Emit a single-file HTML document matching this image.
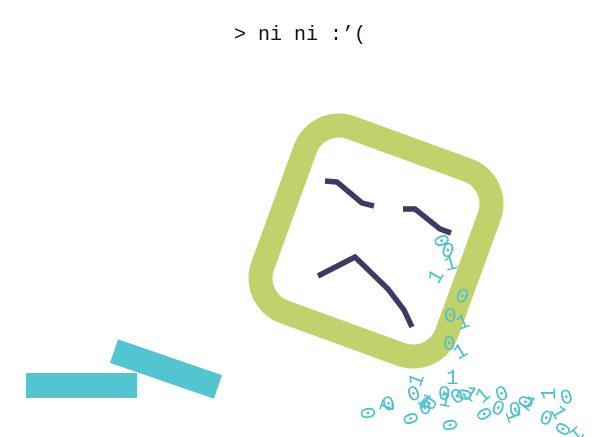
<!DOCTYPE html>
<html><head><meta charset="utf-8"><style>
html,body{margin:0;padding:0;background:#fff;}
svg{display:block}
</style></head><body>
<svg width="600" height="437" viewBox="0 0 600 437" xmlns="http://www.w3.org/2000/svg">
<text x="300" y="40" text-anchor="middle" font-family="Liberation Mono, monospace" font-size="20" fill="#111">&gt; ni ni :’(</text>
<g>
<rect x="26" y="373" width="111" height="25" fill="#52c5d1"/>
<rect x="-55" y="-12.5" width="110" height="25" fill="#52c5d1" transform="translate(166,369) rotate(19)"/>
</g>
<g>
<rect x="-98" y="-98" width="196" height="196" rx="36" fill="none" stroke="#c1d16b" stroke-width="24" transform="translate(376,241) rotate(20)"/>
<g fill="none" stroke="#3f3a62" stroke-width="5.5" stroke-linejoin="miter">
<polyline points="325,181 337,182 362,203 374,206"/>
<polyline points="403,209 415,209 440,229 451,233"/>
<polyline points="318,276 355,257 388,289 404,310 412,327"/>
</g>
</g>
<g font-family="Liberation Mono, monospace" font-size="21" fill="#4fc0cc">
<text transform="translate(433,237) rotate(70)">0</text>
<text transform="translate(440,255) rotate(15)">0</text>
<text transform="translate(446,271) rotate(-15)">1</text>
<text transform="translate(438,285) rotate(-60)">1</text>
<text transform="translate(454,300) rotate(20)">0</text>
<text transform="translate(444,322)">0</text>
<text transform="translate(459,330) rotate(-20)">1</text>
<text transform="translate(443,350)">0</text>
<text transform="translate(458,360) rotate(-30)">1</text>
<text transform="translate(446,384)">1</text>
<text transform="translate(438,400)">0</text>
<text transform="translate(420,388) rotate(-70)">1</text>
<text transform="translate(360,408) rotate(80)">0</text>
<text transform="translate(383,398) rotate(110)">1</text>
<text transform="translate(385,412) rotate(-20)">0</text>
<text transform="translate(402,415) rotate(70)">0</text>
<text transform="translate(410,402) rotate(-20)">0</text>
<text transform="translate(416,402) rotate(40)">1</text>
<text transform="translate(420,415) rotate(-10)">0</text>
<text transform="translate(432,412) rotate(-60)">0</text>
<text transform="translate(438,405) rotate(10)">1</text>
<text transform="translate(442,420) rotate(80)">0</text>
<text transform="translate(455,405) rotate(-30)">0</text>
<text transform="translate(462,396) rotate(30)">1</text>
<text transform="translate(470,402) rotate(-80)">0</text>
<text transform="translate(475,412) rotate(60)">0</text>
<text transform="translate(482,404) rotate(-40)">1</text>
<text transform="translate(490,412) rotate(20)">0</text>
<text transform="translate(498,402) rotate(-20)">0</text>
<text transform="translate(505,412) rotate(70)">1</text>
<text transform="translate(510,417) rotate(-10)">0</text>
<text transform="translate(520,404) rotate(40)">1</text>
<text transform="translate(530,410) rotate(-70)">0</text>
<text transform="translate(538,422) rotate(20)">0</text>
<text transform="translate(550,410) rotate(60)">1</text>
<text transform="translate(555,400) rotate(-90)">1</text>
<text transform="translate(560,420) rotate(120)">0</text>
<text transform="translate(562,405) rotate(-15)">0</text>
<text transform="translate(578,425) rotate(140)">1</text>
</g>
</svg>
</body></html>
